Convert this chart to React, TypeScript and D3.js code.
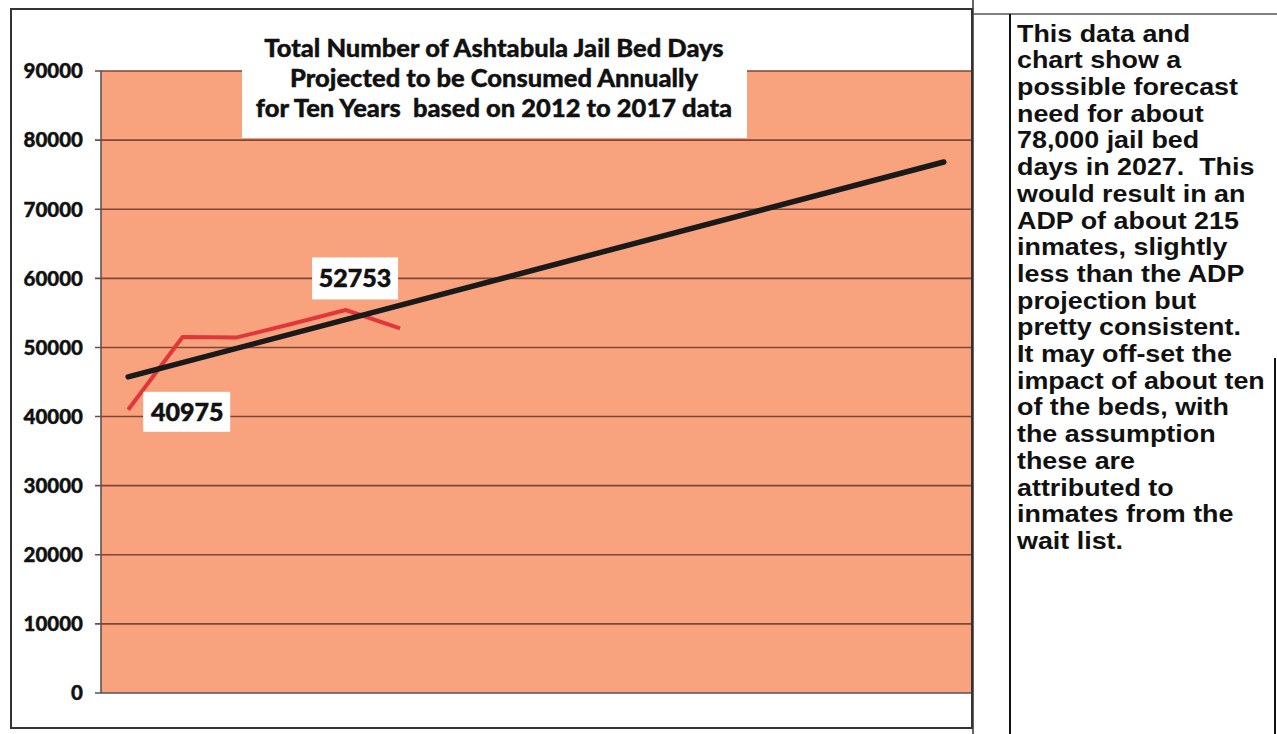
import React from "react";
import * as d3 from "d3";

const years = d3.range(2012, 2028).map(String);
const actualYears = ["2012", "2013", "2014", "2015", "2016", "2017"];
const actualValues = [40975, 51510, 51450, 53400, 55420, 52753];
const yTicks = [0, 10000, 20000, 30000, 40000, 50000, 60000, 70000, 80000, 90000];
const titleLines = [
  "Total Number of Ashtabula Jail Bed Days",
  "Projected to be Consumed Annually",
  "for Ten Years  based on 2012 to 2017 data",
];
const noteLines = [
  "This data and",
  "chart show a",
  "possible forecast",
  "need for about",
  "78,000 jail bed",
  "days in 2027.  This",
  "would result in an",
  "ADP of about 215",
  "inmates, slightly",
  "less than the ADP",
  "projection but",
  "pretty consistent.",
  "It may off-set the",
  "impact of about ten",
  "of the beds, with",
  "the assumption",
  "these are",
  "attributed to",
  "inmates from the",
  "wait list.",
];

export default function App() {
  const W = 1277, H = 734;
  const plotL = 101, plotR = 971, plotT = 71, plotB = 693;
  const x = d3.scaleBand<string>().domain(years).range([plotL, plotR]);
  const cx = (yr: string) => (x(yr) as number) + x.bandwidth() / 2;
  const y = d3.scaleLinear().domain([0, 90000]).range([plotB, plotT]);

  // linear (least-squares) trendline over the actual data, extended to 2027
  const xi = actualValues.map((_, i) => i);
  const mx = d3.mean(xi) as number;
  const my = d3.mean(actualValues) as number;
  const sxy = d3.sum(xi.map((v, i) => (v - mx) * (actualValues[i] - my)));
  const sxx = d3.sum(xi.map((v) => (v - mx) * (v - mx)));
  const slope = sxy / sxx;
  const intercept = my - slope * mx;
  const trendPts: [number, number][] = [
    [cx(years[0]), y(intercept)],
    [cx(years[years.length - 1]), y(intercept + slope * (years.length - 1))],
  ];

  const line = d3.line<[number, number]>();
  const actualPts: [number, number][] = actualYears.map((yr, i) => [cx(yr), y(actualValues[i])]);

  const gridColor = "#7d4636";
  const first = actualPts[0];
  const last = actualPts[actualPts.length - 1];
  const labelFont = "Lato, 'Open Sans', sans-serif";

  return (
    <svg width={W} height={H} style={{ position: "absolute", left: 0, top: 0, background: "#fff" }}>
      {/* plot area */}
      <rect x={plotL} y={plotT} width={plotR - plotL} height={plotB - plotT} fill="#f9a37e" />
      {yTicks.map((t) => (
        <g key={t}>
          <line x1={plotL - 6} x2={plotR} y1={y(t)} y2={y(t)} stroke={t === 0 ? "#555" : gridColor} strokeWidth={1.6} />
          <text
            x={83}
            y={y(t)}
            dy="0.36em"
            textAnchor="end"
            fontFamily={labelFont}
            fontWeight={900}
            fontSize={20.5}
            fill="#111"
            stroke="#111"
            strokeWidth={0.4}
          >
            {t}
          </text>
        </g>
      ))}
      <line x1={plotL} x2={plotL} y1={plotT} y2={plotB} stroke="#555" strokeWidth={1.6} />

      {/* title box */}
      <rect x={242} y={20} width={505} height={118} fill="#fff" />
      {titleLines.map((s, i) => (
        <text
          key={i}
          x={494}
          y={57 + i * 30}
          textAnchor="middle"
          fontFamily={labelFont}
          fontWeight={900}
          fontSize={25.5}
          fill="#111"
          stroke="#111"
          strokeWidth={0.4}
          style={{ whiteSpace: "pre" }}
        >
          {s}
        </text>
      ))}

      {/* series */}
      <path d={line(actualPts) || ""} fill="none" stroke="#e0373a" strokeWidth={4} strokeLinejoin="round" />
      <path d={line(trendPts) || ""} fill="none" stroke="#1a1a1a" strokeWidth={5.5} strokeLinecap="round" />

      {/* data labels */}
      <rect x={first[0] + 15} y={first[1] - 18} width={87} height={40} fill="#fff" />
      <text
        x={first[0] + 59}
        y={first[1] + 2}
        dy="0.36em"
        textAnchor="middle"
        fontFamily={labelFont}
        fontWeight={900}
        fontSize={25}
        fill="#111"
        stroke="#111"
        strokeWidth={0.5}
      >
        {actualValues[0]}
      </text>
      <rect x={last[0] - 88} y={last[1] - 71} width={86} height={42} fill="#fff" />
      <text
        x={last[0] - 45}
        y={last[1] - 50}
        dy="0.36em"
        textAnchor="middle"
        fontFamily={labelFont}
        fontWeight={900}
        fontSize={25}
        fill="#111"
        stroke="#111"
        strokeWidth={0.5}
      >
        {actualValues[actualValues.length - 1]}
      </text>

      {/* chart border */}
      <rect x={11} y={9} width={961} height={719} fill="none" stroke="#333" strokeWidth={2} />
      <line x1={973} x2={973} y1={0} y2={H} stroke="#333" strokeWidth={1.5} />

      {/* note column */}
      <line x1={973} x2={W} y1={14} y2={14} stroke="#555" strokeWidth={1.5} />
      <line x1={1010} x2={1010} y1={14} y2={H} stroke="#111" strokeWidth={2} />
      <line x1={1275} x2={1275} y1={358} y2={H} stroke="#111" strokeWidth={2} />
      <g transform="translate(1017,0) scale(1.12,1)">
        {noteLines.map((s, i) => (
          <text
            key={i}
            x={0}
            y={33 + i * 26.7}
            dy="0.36em"
            fontFamily="'Liberation Sans', Arial, sans-serif"
            fontWeight={700}
            fontSize={24}
            fill="#111"
            style={{ whiteSpace: "pre" }}
          >
            {s}
          </text>
        ))}
      </g>
    </svg>
  );
}
